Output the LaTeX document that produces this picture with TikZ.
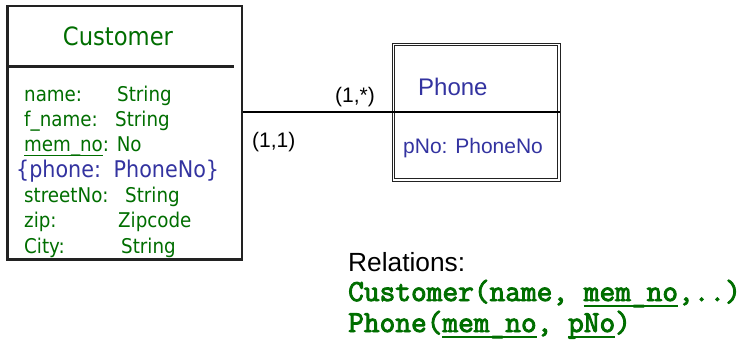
\documentclass[tikz,border=0pt]{standalone}
\usepackage{fontspec}
\setmainfont{Liberation Sans}
\newfontfamily\tahfont{DejaVu Sans Condensed}
\newfontfamily\arialfont{Liberation Sans}
\newfontfamily\courfont[FakeBold=3]{Latin Modern Mono}
\definecolor{ergreen}{RGB}{0,110,0}
\definecolor{erblue}{RGB}{51,51,160}
\definecolor{erline}{RGB}{34,34,34}
\newcommand\myul[2][0.065em]{\setbox0=\hbox{#2}\setbox2=\hbox{\_}\rlap{\copy0}\rule[-\dp2]{\wd0}{#1}}
\tikzset{
  custbox/.style={draw=erline, line width=2.6pt, fill=white, minimum width=234.5, minimum height=253.5, inner sep=0pt},
  phonebox/.style={draw=erline, line width=0.9pt, minimum width=168, minimum height=138, inner sep=0pt},
  phoneinner/.style={draw=erline, line width=0.9pt},
  divider/.style={draw=erline, line width=2.6pt},
  conn/.style={draw=black, line width=1.8pt},
  attr/.style={anchor=base west, inner sep=0pt, text=ergreen, font=\tahfont\fontsize{20.3}{24}\selectfont},
  title/.style={anchor=base, inner sep=0pt, text=ergreen, font=\tahfont\fontsize{25.2}{30}\selectfont},
  card/.style={anchor=base west, inner sep=0pt, text=black, font=\arialfont\fontsize{21}{25}\selectfont},
  reltxt/.style={anchor=base west, inner sep=0pt, text=ergreen, font=\courfont\fontsize{30.5}{34}\selectfont},
}
\begin{document}
\begin{tikzpicture}[x=1pt,y=-1pt]
\useasboundingbox (0,0) rectangle (743,340);
% boxes
\node[custbox] (cust) at (124.75,132.75) {};
\node[phonebox] (phone) at (476,112) {};
\draw[phoneinner] ([shift={(3,3)}]phone.north west) rectangle ([shift={(-3,-3)}]phone.south east);
\draw[divider] (7.5,66.5) -- (234,66.5);
% connector (continues as the divider of Phone)
\draw[conn] (cust.east |- phone.west) -- (phone.east);
% Customer
\node[title] (ctitle) at (118,45) {Customer};
\node[attr] (a1) at (24,101) {name:};
\node[attr] (a1t) at (117,101) {String};
\node[attr] (a2) at (24,126) {f\_name:};
\node[attr] (a2t) at (115,126) {String};
\node[attr] (a3) at (24,151.5) {\myul{mem\_no}: No};
\node[attr, text=erblue, font=\tahfont\fontsize{23}{27}\selectfont] (a4) at (16,177) {\{phone:\hspace{0.55em}PhoneNo\}};
\node[attr] (a5) at (24,202) {streetNo:};
\node[attr] (a5t) at (125,202) {String};
\node[attr] (a6) at (24,227.5) {zip:};
\node[attr] (a6t) at (118,227.5) {Zipcode};
\node[attr] (a7) at (24,253) {City:};
\node[attr] (a7t) at (121,253) {String};
% Phone
\node[anchor=base west, inner sep=0pt, text=erblue, font=\arialfont\fontsize{24}{28}\selectfont] (ptitle) at (418,95) {Phone};
\node[anchor=base west, inner sep=0pt, text=erblue, font=\arialfont\fontsize{21}{25}\selectfont] (pattr) at (403,153) {pNo: PhoneNo};
% cardinalities
\node[card] (c1) at (335,102) {(1,*)};
\node[card] (c2) at (252,147) {(1,1)};
% relations
\node[anchor=base west, inner sep=0pt, text=black, font=\arialfont\fontsize{26.3}{30}\selectfont] (rel) at (348,271) {Relations:};
\node[reltxt] (r1) at (348,301) {Customer(name, \myul[0.07em]{mem\_no},..)};
\node[reltxt] (r2) at (348,332) {Phone(\myul[0.07em]{mem\_no}, \myul[0.07em]{pNo})};
\end{tikzpicture}
\end{document}
